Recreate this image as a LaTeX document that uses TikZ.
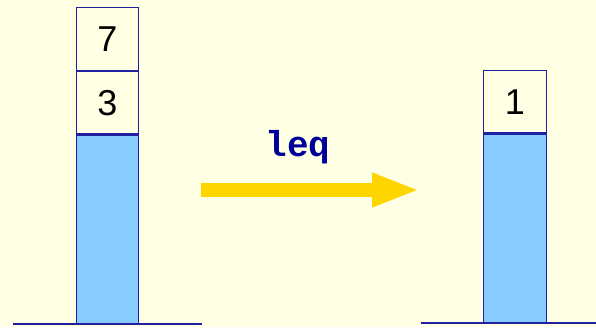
\documentclass[tikz,border=0pt]{standalone}
\usepackage{fontspec}
\setmainfont{Liberation Sans}
\setmonofont{Liberation Mono}
\usetikzlibrary{positioning,arrows.meta}
\definecolor{bgyellow}{HTML}{FFFFE3}
\definecolor{stackblue}{HTML}{88CCFF}
\definecolor{edgeblue}{HTML}{2020A0}
\definecolor{arrowgold}{HTML}{FFD500}
\definecolor{opblue}{HTML}{000099}

\begin{document}
\begin{tikzpicture}[x=1pt,y=1pt,
    cell/.style={draw=edgeblue, line width=1.3pt, fill=bgyellow, minimum width=62.5pt,
                 minimum height=62.5pt, inner sep=0pt, font=\fontsize{36}{36}\selectfont},
    bar/.style={draw=edgeblue, line width=1.3pt, fill=stackblue, minimum width=62.5pt,
                minimum height=188pt, inner sep=0pt},
    ground/.style={draw=edgeblue, line width=1.3pt},
    move/.style={arrowgold, line width=14pt, -{Triangle[length=48pt,width=31pt]}}]

    % background and page size
    \fill[bgyellow] (0,0) rectangle (596,327);
    \useasboundingbox (0,0) rectangle (596,327);

    % stack before
    \node[cell] (top7) at (107.5,288) {7};
    \node[cell, below=0pt of top7] (next3) {3};
    \node[bar, below=0pt of next3] (restL) {};
    \draw[ground] ([xshift=-94.5pt]restL.south) -- ([xshift=94.5pt]restL.south);

    % stack after
    \node[cell] (top1) at (515,225.25) {1};
    \node[bar, below=0pt of top1] (restR) {};
    \draw[ground] ([xshift=-94pt]restR.south) -- ([xshift=81pt]restR.south);

    % instruction
    \coordinate (from) at (201,137);
    \coordinate (to) at (420,137);
    \draw[move] (from) -- (to);
    \node[text=opblue, font=\ttfamily\bfseries\fontsize{36}{36}\selectfont] (op) at (298,180) {leq};
\end{tikzpicture}
\end{document}
